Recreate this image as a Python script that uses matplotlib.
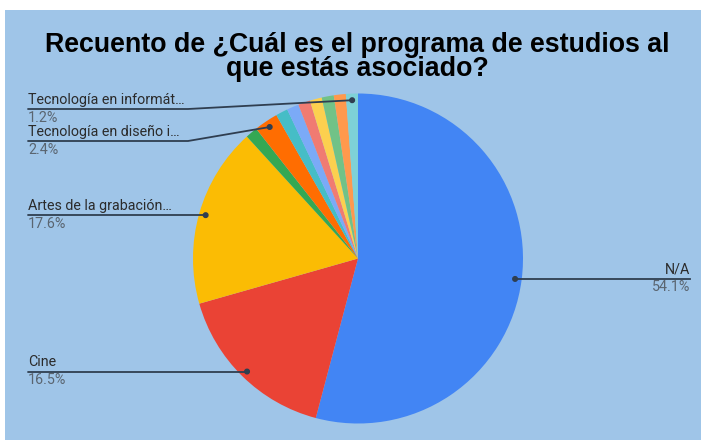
import numpy as np
import matplotlib
matplotlib.use("Agg")
import matplotlib.pyplot as plt
from matplotlib.patches import Rectangle, Circle

# Survey responses per study programme (counts)
categories = [
    "N/A",
    "Cine",
    "Artes de la grabación…",
    "",
    "Tecnología en diseño i…",
    "", "", "", "", "", "",
    "Tecnología en informát…",
]
counts = [46, 14, 15, 1, 2, 1, 1, 1, 1, 1, 1, 1]
colors = [
    "#4285f4", "#ea4335", "#fbbc04", "#34a853", "#ff6d01", "#46bdc6",
    "#7baaf7", "#f07b72", "#fcd04f", "#71c287", "#ff994d", "#7ed1d7",
]
title_lines = ["Recuento de ¿Cuál es el programa de estudios al",
               "que estás asociado?"]

W, H = 701, 440
BG = "#9fc5e8"
fig = plt.figure(figsize=(W / 100, H / 100), dpi=100, facecolor="white")
ax = fig.add_axes([0, 0, 1, 1])
ax.add_patch(Rectangle((5, 10), W - 5, H - 10, facecolor=BG, edgecolor="none", zorder=0))

cx, cy, R = 358, 258.5, 165
ax.pie(counts, colors=colors, startangle=-90, counterclock=True,
       center=(cx, cy), radius=R, frame=True,
       wedgeprops=dict(linewidth=0, zorder=2))
ax.set_xlim(0, W)
ax.set_ylim(H, 0)
ax.set_aspect("equal")
ax.axis("off")

for yy, line in zip([45, 69], title_lines):
    ax.text(357, yy, line, ha="center", va="center",
            fontsize=19.3, fontweight="bold", family="Liberation Sans", color="#000000")

total = sum(counts)
fracs = np.array(counts) / total
cum = np.cumsum(fracs) - fracs / 2
LINE = "#2f3e50"
NAME_C = "#2b2b2b"
PCT_C = "#5a6570"
FS = 10.3
FONT = "Roboto"

left, right = [], []
for name, f, mid in zip(categories, fracs, cum):
    if not name:
        continue
    ang = 2 * np.pi * mid
    dx, dy = R * 0.96 * np.sin(ang), -R * 0.96 * np.cos(ang)
    item = dict(name=name, pct=f"{f * 100:.1f}%", px=cx + dx, py=cy + dy)
    (right if dx > 0 else left).append(item)

# left column: stack labels downwards with minimum spacing
left.sort(key=lambda d: d["py"])
prev = None
for d in left:
    y = max(d["py"], 109 if prev is None else prev + 32)
    prev = y
    bx = min(d["px"], 188)
    ax.plot([28, bx, d["px"]], [y, y, d["py"]], color=LINE, lw=1.3, zorder=3,
            solid_capstyle="round")
    ax.add_patch(Circle((d["px"], d["py"]), 2.3, color=LINE, zorder=4))
    ax.text(28, y - 2.5, d["name"], ha="left", va="bottom", fontsize=FS,
            family=FONT, color=NAME_C)
    ax.text(28, y + 1.5, d["pct"], ha="left", va="top", fontsize=FS,
            family=FONT, color=PCT_C)

for d in right:
    y = d["py"]
    ax.plot([d["px"], 690], [y, y], color=LINE, lw=1.3, zorder=3)
    ax.add_patch(Circle((d["px"], d["py"]), 2.3, color=LINE, zorder=4))
    ax.text(690, y - 2.5, d["name"], ha="right", va="bottom", fontsize=FS,
            family=FONT, color=NAME_C)
    ax.text(690, y + 1.5, d["pct"], ha="right", va="top", fontsize=FS,
            family=FONT, color=PCT_C)

fig.savefig("out.png", dpi=100, facecolor="white")
